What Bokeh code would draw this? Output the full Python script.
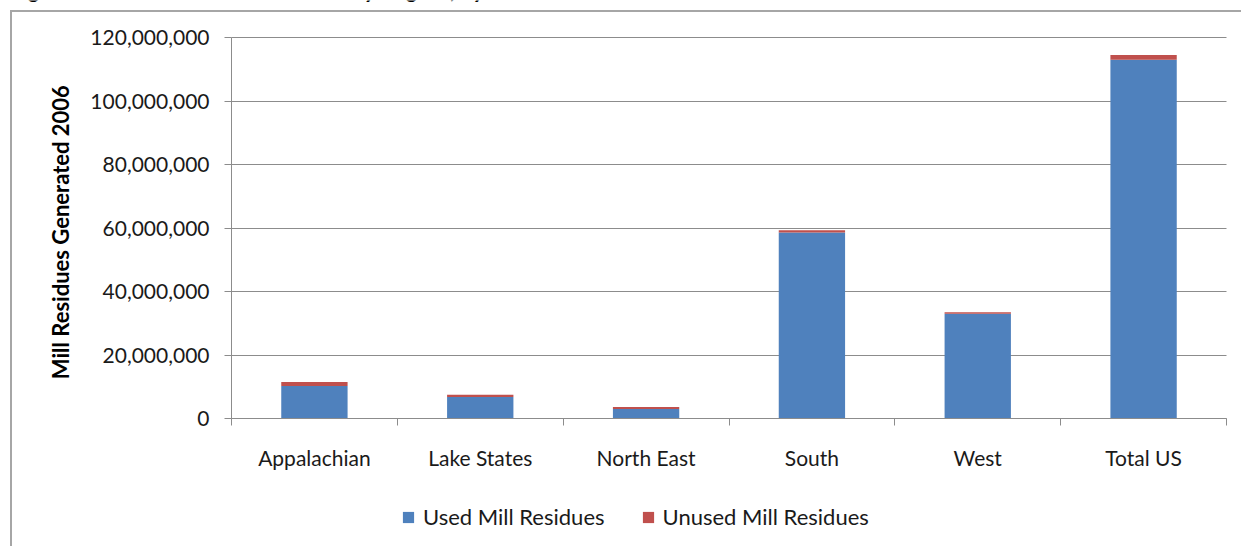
import math
from bokeh.plotting import figure
from bokeh.models import (ColumnDataSource, FixedTicker, NumeralTickFormatter,
                          Legend, LegendItem, Label, Range1d, InlineStyleSheet,
                          LinearAxis, Grid)
from bokeh.embed import file_html
from bokeh.resources import INLINE

regions = ["Appalachian", "Lake States", "North East", "South", "West", "Total US"]
used = [10.2e6, 6.8e6, 3.0e6, 58.6e6, 33.0e6, 113.0e6]
unused = [1.3e6, 0.7e6, 0.6e6, 0.7e6, 0.5e6, 1.5e6]
series = ["Used Mill Residues", "Unused Mill Residues"]
y_ticks = [0, 20e6, 40e6, 60e6, 80e6, 100e6, 120e6]
title_text = "Figure 5. Mill Residues Generated by Region, by Use"
y_title = "Mill Residues  Generated 2006"

FONT = "Lato"
GRAY = "#8c8c8c"
FS = "21px"

W, H = 1241, 546
# plot area in canvas pixels
PL, PR, PT, PB = 231, 1226, 37, 418
N = len(regions)
Y_MAX = 120e6

xs_per_px = N / (PR - PL)
x0 = -PL * xs_per_px
x1 = x0 + W * xs_per_px
ys_per_px = Y_MAX / (PB - PT)
y1 = Y_MAX + PT * ys_per_px
y0 = -(H - PB) * ys_per_px

xc = [i + 0.5 for i in range(N)]
src = ColumnDataSource(dict(x=xc, used=used, unused=unused))

p = figure(width=W, height=H, output_backend="svg", toolbar_location=None,
           x_range=Range1d(x0, x1), y_range=Range1d(y0, y1),
           x_axis_location=None, y_axis_location=None, min_border=0)
p.outline_line_color = None
p.background_fill_color = "white"
p.border_fill_color = "white"

rs = p.vbar_stack(["used", "unused"], x="x", width=0.4, source=src,
                  color=["#4f81bd", "#c0504d"], line_color=None)

# y axis fixed at x = 0
yax = LinearAxis(fixed_location=0, bounds=(0, Y_MAX))
yax.ticker = FixedTicker(ticks=y_ticks)
yax.formatter = NumeralTickFormatter(format="0,0")
yax.axis_line_color = GRAY
yax.major_tick_line_color = GRAY
yax.major_tick_out = 7
yax.major_tick_in = 0
yax.minor_tick_line_color = None
yax.major_label_text_font = FONT
yax.major_label_text_font_size = FS
yax.major_label_text_color = "#1a1a1a"
yax.major_label_standoff = 15
p.add_layout(yax, "left")

# x axis fixed at value 0: labels at centres, ticks at boundaries
xax = LinearAxis(fixed_location=0, bounds=(0, N))
xax.ticker = FixedTicker(ticks=xc, minor_ticks=list(range(N + 1)))
xax.major_label_overrides = {x: r for x, r in zip(xc, regions)}
xax.axis_line_color = GRAY
xax.major_tick_line_color = None
xax.major_tick_out = 0
xax.major_tick_in = 0
xax.minor_tick_line_color = GRAY
xax.minor_tick_out = 7
xax.minor_tick_in = 0
xax.major_label_text_font = FONT
xax.major_label_text_font_size = FS
xax.major_label_text_color = "#1a1a1a"
xax.major_label_standoff = 19
p.add_layout(xax, "below")

p.xgrid.visible = False
p.ygrid.visible = False
grid = Grid(dimension=1, ticker=FixedTicker(ticks=y_ticks), bounds=(0, Y_MAX),
            cross_bounds=(0, N), grid_line_color=GRAY, grid_line_width=1)
p.add_layout(grid)

legend = Legend(items=[LegendItem(label=series[0], renderers=[rs[0]]),
                       LegendItem(label=series[1], renderers=[rs[1]])],
                orientation="horizontal", location=(401, 16), margin=0, padding=10,
                label_text_font=FONT, label_text_font_size="22px",
                label_text_color="#1a1a1a", glyph_width=14, glyph_height=14,
                label_standoff=8, spacing=36, border_line_color=None,
                background_fill_alpha=0)
p.add_layout(legend, "center")

title = Label(x=10, y=H + 12, x_units="screen", y_units="screen", text=title_text,
              text_font=FONT, text_font_size="24px", text_font_style="bold italic",
              text_baseline="alphabetic", text_color="#000000")
p.add_layout(title)

ylab = Label(x=60, y=H - 229, x_units="screen", y_units="screen", text=y_title,
             angle=math.pi / 2, text_align="center", text_baseline="middle",
             text_font=FONT, text_font_size="22px", text_font_style="bold",
             text_color="#000000")
p.add_layout(ylab)

p.stylesheets = [InlineStyleSheet(css=(
    ":host{position:relative;overflow:hidden;}"
    ":host::after{content:'';position:absolute;left:10px;top:10px;right:-20px;"
    "bottom:-20px;border:2px solid #a6a6a6;pointer-events:none;}"))]

open("out.html", "w").write(file_html(p, INLINE))
